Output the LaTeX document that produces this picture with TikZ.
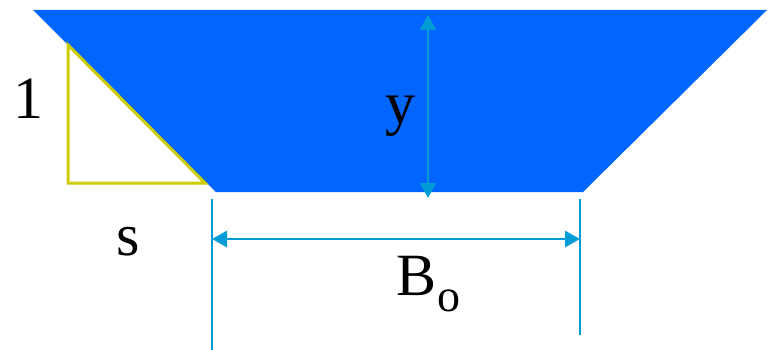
\documentclass[tikz,border=0pt]{standalone}
\usepackage{fontspec}
\setmainfont{Liberation Serif}
\usetikzlibrary{arrows.meta}
\definecolor{water}{HTML}{0066FF}
\definecolor{dimc}{HTML}{009CD6}
\definecolor{tric}{HTML}{CCCC00}
\begin{document}
\begin{tikzpicture}[x=1pt,y=-1pt,
  dimline/.style={draw=dimc,line width=2.8pt},
  dimarrow/.style={dimline,{Triangle[length=15pt,width=16pt]}-{Triangle[length=15pt,width=16pt]}},
  lbl/.style={font=\fontsize{60}{72}\selectfont,inner sep=0pt,anchor=base},
  sublbl/.style={font=\fontsize{46}{55}\selectfont,inner sep=0pt,anchor=base west}]
\useasboundingbox (0,0) rectangle (775,350);
\fill[white] (0,0) rectangle (775,350);
% channel
\fill[water] (33,10) -- (767,10) -- (583,192) -- (216,192) -- cycle;
% slope triangle
\draw[tric,line width=3pt,line join=miter] (68,45) -- (68,183) -- (205,183) -- cycle;
% coordinates
\coordinate (ytop) at (428,15);
\coordinate (ybot) at (428,198);
\coordinate (lt) at (212,199);
\coordinate (lb) at (212,350);
\coordinate (rt) at (580,199);
\coordinate (rb) at (580,335);
\coordinate (bl) at (212,239);
\coordinate (br) at (580,239);
% dimension lines
\draw[dimline] (lt) -- (lb);
\draw[dimline] (rt) -- (rb);
\draw[dimarrow] (ytop) -- (ybot);
\draw[dimarrow] (bl) -- (br);
% labels
\node[lbl] (one) at (28,118) {1};
\node[lbl] (s) at (128,255) {s};
\node[lbl] (y) at (400,124) {y};
\node[lbl,anchor=base west] (B) at (396,295) {B};
\node[sublbl] (o) at (437,311) {o};
\end{tikzpicture}
\end{document}
